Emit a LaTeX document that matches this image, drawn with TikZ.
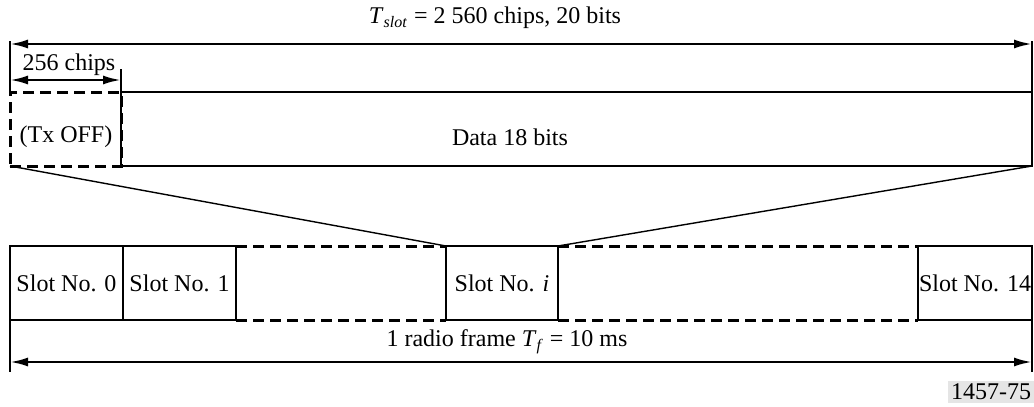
\documentclass[tikz,border=0pt]{standalone}
\usepackage{fontspec}
\setmainfont{Liberation Serif}
\usetikzlibrary{arrows.meta}

\tikzset{
  slotbox/.style={draw, line width=1.1pt, inner sep=0pt, outer sep=0pt, minimum height=37pt},
  dashline/.style={line width=1.5pt, dash pattern=on 5.5pt off 3pt},
  dimline/.style={line width=1.2pt, {Latex[length=9pt,width=4.5pt]}-{Latex[length=9pt,width=4.5pt]}},
  dimtick/.style={line width=1.2pt},
  zoomline/.style={line width=0.7pt}
}

\begin{document}
\begin{tikzpicture}[x=0.5pt, y=-0.5pt, every node/.style={font=\fontsize{12}{14}\selectfont}]
\useasboundingbox (0,0) rectangle (1034,407);

% Slot detail on top
\node[slotbox, dashline, minimum width=55.5pt] (txoff) at (65.5,129) {};
\node[slotbox, minimum width=455.5pt] (data) at (576.5,129) {};
\node (txofftxt) at (66,137) {(Tx OFF)};
\node (datatxt) at (510,137) {Data 18 bits};

% Slot length
\draw[dimtick] (txoff.north west) -- ++(0,-51);
\draw[dimtick] (data.north east) -- ++(0,-51);
\draw[dimline] ([yshift=24pt]txoff.north west) -- ([yshift=24pt]data.north east);
\node (tslot) at (495,18) {\textit{T}\textsubscript{\textit{slot}} = 2 560 chips, 20 bits};

% 256 chips
\draw[dimtick] (txoff.north east) -- ++(0,-23);
\draw[dimline] ([yshift=6pt]txoff.north west) -- ([yshift=6pt]txoff.north east);
\node (chips) at (69,65) {256 chips};

% Radio frame slots
\foreach \nm/\cx/\w/\txt in {slot0/66.5/56.5/{Slot No. 0}, slot1/179.5/56.5/{Slot No. 1},
    sloti/502/56/{Slot No. \textit{i}}, slot14/975/57/{Slot No. 14}} {
    \node[slotbox, minimum width=\w pt] (\nm) at (\cx,283) {\txt};
}

% Dashed gaps between slots
\draw[dashline] (slot1.north east) -- (sloti.north west);
\draw[dashline] (slot1.south east) -- (sloti.south west);
\draw[dashline] (sloti.north east) -- (slot14.north west);
\draw[dashline] (sloti.south east) -- (slot14.south west);

% Zoom lines
\draw[zoomline] (txoff.south west) -- (sloti.north west);
\draw[zoomline] (data.south east) -- (sloti.north east);

% Frame length
\draw[dimtick] (slot0.south west) -- ++(0,52);
\draw[dimtick] (slot14.south east) -- ++(0,52);
\draw[dimline] ([yshift=-21pt]slot0.south west) -- ([yshift=-21pt]slot14.south east);
\node (frame) at (507,342) {1 radio frame \textit{T}\textsubscript{\textit{f}} = 10 ms};

\node[fill=black!10, inner sep=1.5pt] (figno) at (991,392) {1457-75};

\end{tikzpicture}
\end{document}
